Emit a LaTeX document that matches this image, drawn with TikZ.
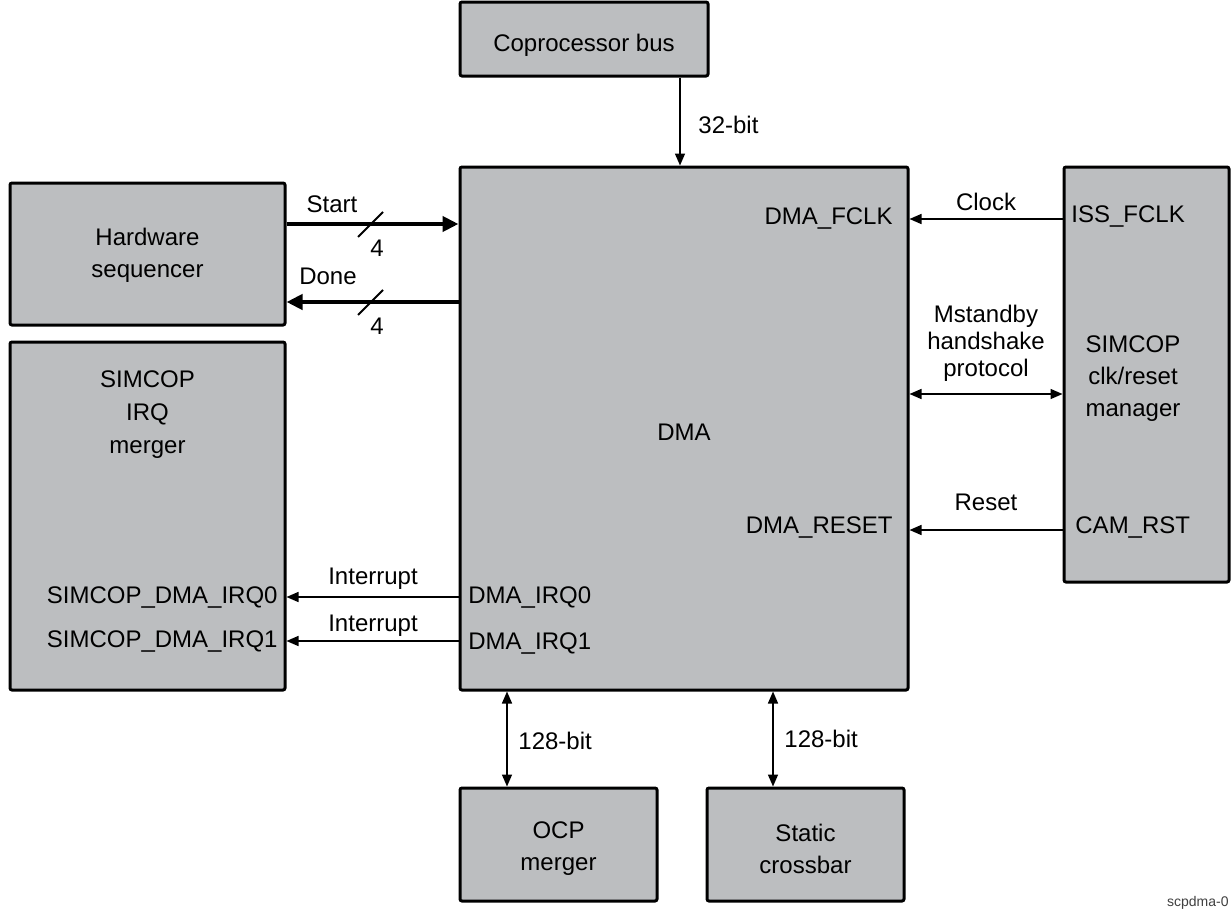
\documentclass[tikz,border=0pt]{standalone}
\usepackage{fontspec}
\setmainfont{Liberation Sans}
\usetikzlibrary{arrows.meta}
\definecolor{boxgray}{HTML}{BCBEC0}
\tikzset{
  blk/.style={draw=black, fill=boxgray, line width=1.5pt, rounded corners=1pt, inner sep=0pt},
  lbl/.style={font=\fontsize{12}{14}\selectfont, inner sep=0pt, align=center},
  thinarr/.style={line width=0.75pt, -{Triangle[length=6pt,width=5pt]}},
  dblarr/.style={line width=0.75pt, {Triangle[length=6pt,width=5pt]}-{Triangle[length=6pt,width=5pt]}},
  thickarr/.style={line width=2pt, -{Triangle[length=8pt,width=7.5pt]}},
  slash/.style={line width=0.9pt}
}
\begin{document}
\begin{tikzpicture}[x=0.5pt,y=-0.5pt]
\useasboundingbox[fill=white] (0,0) rectangle (1231,910);
% blocks
\node[blk, minimum width=124pt, minimum height=37pt] (cop) at (584,39) {};
\node[blk, minimum width=224pt, minimum height=261.5pt] (dma) at (684,428.5) {};
\node[blk, minimum width=137.5pt, minimum height=71pt] (hw) at (147.5,254) {};
\node[blk, minimum width=137.5pt, minimum height=174pt] (irq) at (147.5,516) {};
\node[blk, minimum width=82.5pt, minimum height=207.5pt] (clk) at (1146.5,374.5) {};
\node[blk, minimum width=98.5pt, minimum height=56.5pt] (ocp) at (558.5,844.5) {};
\node[blk, minimum width=98.5pt, minimum height=56.5pt] (scb) at (805.5,844.5) {};
% block texts
\node[lbl] (coptxt) at (584,45) {Coprocessor bus};
\node[lbl] (dmatxt) at (684,432) {DMA};
\node[lbl] (hwtxt) at (147.5,255) {Hardware\\[2pt]sequencer};
\node[lbl] (irqtxt) at (147.5,415) {SIMCOP\\[2.5pt]IRQ\\[2.5pt]merger};
\node[lbl] (clktxt) at (1133,379) {SIMCOP\\[2pt]clk/reset\\[2pt]manager};
\node[lbl] (ocptxt) at (558.5,849) {OCP\\[2pt]merger};
\node[lbl] (scbtxt) at (805.5,849) {Static\\[2pt]crossbar};
% port labels
\node[lbl, anchor=east] (fclk) at (893,219) {DMA\_FCLK};
\node[lbl, anchor=east] (drst) at (893,527) {DMA\_RESET};
\node[lbl, anchor=west] (issf) at (1071,217) {ISS\_FCLK};
\node[lbl, anchor=west] (camr) at (1075,527) {CAM\_RST};
\node[lbl, anchor=west] (irq0) at (468,597) {DMA\_IRQ0};
\node[lbl, anchor=west] (irq1) at (468,643) {DMA\_IRQ1};
\node[lbl, anchor=east] (sirq0) at (278,597) {SIMCOP\_DMA\_IRQ0};
\node[lbl, anchor=east] (sirq1) at (278,641) {SIMCOP\_DMA\_IRQ1};
% connectors
\draw[thinarr] (680,0 |- cop.south) -- (680,0 |- dma.north);
\node[lbl, anchor=west] (l32) at (698,125) {32-bit};

\draw[thickarr] (hw.east |- 0,224) -- (dma.west |- 0,224);
\draw[slash] (358,237) -- (383,212);
\node[lbl] (lstart) at (332,204) {Start};
\node[lbl] (l4a) at (377,248) {4};

\draw[thickarr] (dma.west |- 0,302) -- (hw.east |- 0,302);
\draw[slash] (358,315) -- (383,290);
\node[lbl] (ldone) at (328,276) {Done};
\node[lbl] (l4b) at (377,326) {4};

\draw[thinarr] (clk.west |- 0,219) -- (dma.east |- 0,219);
\node[lbl] (lclock) at (986,202) {Clock};

\draw[dblarr] (dma.east |- 0,394) -- (clk.west |- 0,394);
\node[lbl, font=\fontsize{12}{13.6}\selectfont] (lmst) at (986,343) {Mstandby\\handshake\\protocol};

\draw[thinarr] (clk.west |- 0,530) -- (dma.east |- 0,530);
\node[lbl] (lreset) at (986,502) {Reset};

\draw[thinarr] (dma.west |- 0,597) -- (irq.east |- 0,597);
\node[lbl] (lint0) at (373,579) {Interrupt};
\draw[thinarr] (dma.west |- 0,641) -- (irq.east |- 0,641);
\node[lbl] (lint1) at (373,626) {Interrupt};

\draw[dblarr] (507,0 |- dma.south) -- (507,0 |- ocp.north);
\node[lbl, anchor=west] (l128a) at (518,741) {128-bit};
\draw[dblarr] (773,0 |- dma.south) -- (773,0 |- scb.north);
\node[lbl, anchor=west] (l128b) at (784,739) {128-bit};

\node[anchor=east, inner sep=0pt, text=black!75, font=\fontsize{7}{8}\selectfont] (wm) at (1229,903) {scpdma-0};
\end{tikzpicture}
\end{document}
